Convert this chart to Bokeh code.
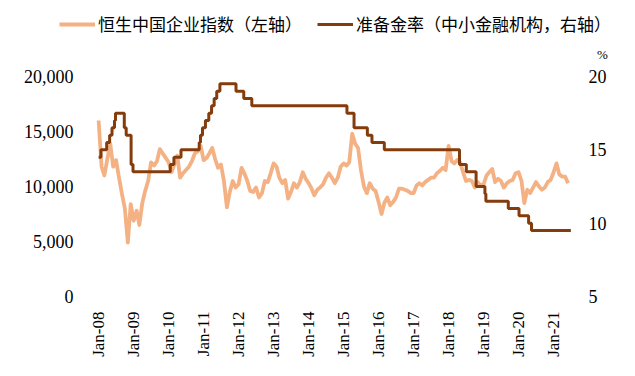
import pandas as pd
from math import pi
from bokeh.plotting import figure
from bokeh.models import (Range1d, LinearAxis, FixedTicker, NumeralTickFormatter,
                          Legend, LegendItem, Label)
from bokeh.embed import file_html
from bokeh.resources import INLINE

# ---------------- data ----------------
hscei_name = "恒生中国企业指数（左轴）"
rrr_name = "准备金率（中小金融机构，右轴）"

hscei_first_month = "2008-01-01"
hscei_2008 = [16000, 11800, 11000, 12500, 13900, 11800, 12400, 10800, 9300, 8000, 4900, 8400]
hscei_2009 = [6900, 7800, 6500, 8500, 9600, 10500, 12200, 11900, 12300, 13400, 13000, 12600]
hscei_2010 = [12200, 11300, 12000, 12800, 10800, 11200, 11500, 11800, 12300, 13000, 13200, 13700]
hscei_2011 = [12400, 12600, 13000, 13500, 12500, 11700, 12000, 10500, 8100, 9500, 10500, 9900]
hscei_2012 = [10200, 11700, 11200, 10500, 9600, 9500, 9900, 9000, 9400, 10500, 10400, 11200]
hscei_2013 = [12100, 11800, 10800, 10300, 10600, 8900, 9500, 10300, 9900, 10400, 11300, 10700]
hscei_2014 = [10300, 9800, 9200, 9700, 9900, 10200, 10800, 11200, 10800, 10300, 10800, 11800]
hscei_2015 = [12100, 11900, 12200, 14800, 13900, 13500, 11500, 10000, 9400, 10300, 9800, 9600]
hscei_2016 = [8600, 7500, 8500, 9000, 8300, 8600, 9000, 9800, 9800, 9700, 9600, 9400]
hscei_2017 = [9400, 10100, 10300, 10100, 10400, 10600, 10800, 10800, 11200, 11400, 11700, 11500]
hscei_2018 = [13700, 12300, 12100, 12400, 12200, 11300, 10500, 10600, 10500, 9900, 10400, 10100]
hscei_2019 = [10200, 11000, 11300, 11600, 10400, 10700, 10500, 9900, 10300, 10500, 10600, 11200]
hscei_2020 = [11300, 10500, 8500, 9700, 9400, 9900, 10400, 10000, 9700, 9900, 10400, 10600]
hscei_2021 = [11300, 12100, 11100, 10900, 10900, 10300]

rrr_dates = ["2008-01-01", "2008-01-25", "2008-03-25", "2008-04-25", "2008-05-20",
             "2008-06-15", "2008-06-25", "2008-09-25", "2008-10-15", "2008-12-05",
             "2008-12-25", "2010-01-18", "2010-02-25", "2010-05-10", "2010-11-16",
             "2010-11-29", "2010-12-20", "2011-01-20", "2011-02-24", "2011-03-25",
             "2011-04-21", "2011-05-18", "2011-06-20", "2011-12-05", "2012-02-24",
             "2012-05-18", "2015-02-05", "2015-04-20", "2015-09-06", "2015-10-24",
             "2016-03-01", "2018-04-25", "2018-07-05", "2018-10-15", "2019-01-15",
             "2019-01-25", "2019-09-16", "2020-01-06", "2020-04-15", "2020-05-15",
             "2021-06-30"]
rrr_values = [14.5, 15, 15.5, 16, 16.5, 17, 17.5, 16.5, 16, 14,
              13.5, 14, 14.5, 15, 15.5, 16, 16.5, 17, 17.5, 18,
              18.5, 19, 19.5, 19, 18.5, 18, 17.5, 16.5, 16, 15.5,
              15, 14, 13.5, 12.5, 12, 11.5, 11, 10.5, 10, 9.5,
              9.5]

tick_years = list(range(2008, 2022))
tick_labels = ["Jan-08", "Jan-09", "Jan-10", "Jan-11", "Jan-12", "Jan-13", "Jan-14",
               "Jan-15", "Jan-16", "Jan-17", "Jan-18", "Jan-19", "Jan-20", "Jan-21"]
left_ticks = [0, 5000, 10000, 15000, 20000]
right_ticks = [5, 10, 15, 20]
right_unit = "%"

# ---------------- build ----------------
hscei = (hscei_2008 + hscei_2009 + hscei_2010 + hscei_2011 + hscei_2012 + hscei_2013 +
         hscei_2014 + hscei_2015 + hscei_2016 + hscei_2017 + hscei_2018 + hscei_2019 +
         hscei_2020 + hscei_2021)
hscei_dates = pd.date_range(hscei_first_month, periods=len(hscei), freq="MS")
rrr_x = pd.to_datetime(rrr_dates)

ORANGE = "#F4B183"
BROWN = "#843C0C"
NUM_FONT = "Liberation Serif"
CJK_FONT = "Noto Sans CJK SC"

# the frame also holds the legend band on top, so the ranges reach above the top ticks
x_start = pd.Timestamp("2006-10-08")
x_end = pd.Timestamp("2022-10-09")
left_top = 26000
right_top = 24.5

p = figure(width=630, height=372, x_axis_type="datetime",
           x_range=Range1d(x_start, x_end), y_range=Range1d(0, left_top),
           output_backend="svg", toolbar_location=None,
           min_border_left=55, min_border_right=15,
           min_border_top=10, min_border_bottom=76,
           background_fill_color="white", border_fill_color="white")
p.outline_line_color = None
p.xgrid.visible = False
p.ygrid.visible = False
p.extra_y_ranges = {"right": Range1d(5, right_top)}

r1 = p.line(hscei_dates, hscei, line_color=ORANGE, line_width=3.8, line_join="round")
r2 = p.step(rrr_x, rrr_values, mode="after", y_range_name="right",
            line_color=BROWN, line_width=3)

# x axis
tick_ms = [int(pd.Timestamp(f"{y}-01-01").value // 10**6) for y in tick_years]
xa = p.xaxis[0]
xa.ticker = FixedTicker(ticks=tick_ms)
xa.major_label_overrides = {t: lab for t, lab in zip(tick_ms, tick_labels)}
xa.major_label_orientation = pi / 2
xa.major_label_standoff = 15

# left axis
ya = p.yaxis[0]
ya.ticker = FixedTicker(ticks=left_ticks)
ya.formatter = NumeralTickFormatter(format="0,0")
ya.major_label_standoff = -18

# right axis
ra = LinearAxis(y_range_name="right", ticker=FixedTicker(ticks=right_ticks))
ra.major_label_standoff = -27
p.add_layout(ra, "right")

for ax in (xa, ya, ra):
    ax.axis_line_color = None
    ax.major_tick_line_color = None
    ax.minor_tick_line_color = None
    ax.major_tick_out = 0
    ax.major_tick_in = 0
    ax.major_label_text_font = NUM_FONT
    ax.major_label_text_color = "black"
ya.major_label_text_font_size = "18px"
ra.major_label_text_font_size = "18px"
xa.major_label_text_font_size = "17px"

unit = Label(x=x_end, y=right_ticks[-1], y_range_name="right", text=right_unit,
             x_offset=-13, y_offset=22, text_align="center", text_baseline="middle",
             text_font=NUM_FONT, text_font_size="13px", text_color="black")
p.add_layout(unit)

legend = Legend(items=[LegendItem(label=hscei_name, renderers=[r1]),
                       LegendItem(label=rrr_name, renderers=[r2])],
                location=(4, 260), orientation="horizontal",
                padding=0, margin=0, spacing=15, label_standoff=3,
                glyph_width=36, glyph_height=20, label_height=20,
                label_text_font=CJK_FONT, label_text_font_size="17px",
                label_text_color="black", border_line_color=None,
                background_fill_alpha=0)
p.add_layout(legend)

open("out.html", "w").write(file_html(p, INLINE))
